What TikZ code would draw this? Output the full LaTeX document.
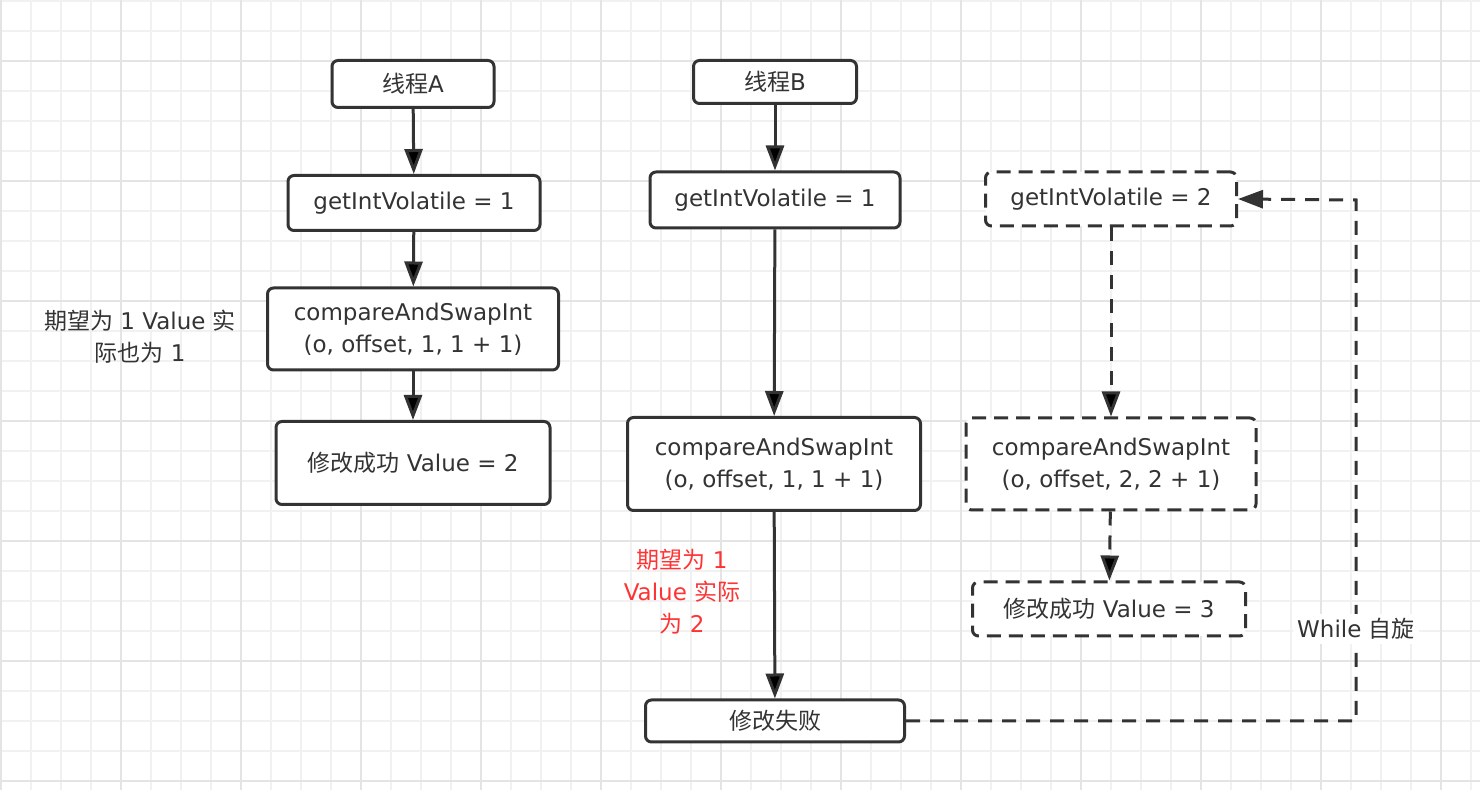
\documentclass[tikz,border=0pt]{standalone}
\usepackage{fontspec}
\setmainfont{DejaVu Sans}
\newfontfamily\cjk{Noto Sans CJK SC}
\usetikzlibrary{arrows.meta}
\definecolor{ink}{HTML}{333333}
\definecolor{gridfine}{HTML}{F1F1F1}
\definecolor{gridbold}{HTML}{E4E4E4}
\definecolor{warn}{HTML}{FF3333}

\begin{document}
\begin{tikzpicture}[x=0.5pt,y=-0.5pt,font=\fontsize{11.5}{16}\selectfont,text=ink]
    \tikzstyle{stepnode}=[draw=ink,line width=1.5pt,rounded corners=3pt,fill=white,inner sep=0pt,align=center];
    \tikzstyle{spin}=[stepnode,dash pattern=on 7pt off 4pt];
    \tikzstyle{flow}=[draw=ink,line width=1.5pt,-{Triangle[length=12.5pt,width=9pt]}];
    \tikzstyle{note}=[align=center,inner sep=1pt];
    \useasboundingbox (0,0) rectangle (1480,790);

    % grid paper
    \foreach \gx in {1,31,...,1471} \draw[gridfine,line width=0.6pt] (\gx,0) -- (\gx,790);
    \foreach \gy in {1,31,...,781} \draw[gridfine,line width=0.6pt] (0,\gy) -- (1480,\gy);
    \foreach \gx in {1,121,...,1441} \draw[gridbold,line width=0.6pt] (\gx,0) -- (\gx,790);
    \foreach \gy in {61,181,...,781} \draw[gridbold,line width=0.6pt] (0,\gy) -- (1480,\gy);

    % thread A
    \node (A0) [stepnode,minimum width=81pt,minimum height=23.5pt] at (413,84) {{\cjk 线程}A};
    \node (A1) [stepnode,minimum width=126pt,minimum height=27.5pt] at (414,203) {getIntVolatile = 1};
    \node (A2) [stepnode,minimum width=145.5pt,minimum height=41pt] at (413,329) {compareAndSwapInt\\(o, offset, 1, 1 + 1)};
    \node (A3) [stepnode,minimum width=137pt,minimum height=41.5pt] at (413,463) {{\cjk 修改成功} Value = 2};
    \node (An) [note] at (140,337) {{\cjk 期望为} 1 Value {\cjk 实}\\{\cjk 际也为} 1};

    % thread B
    \node (B0) [stepnode,minimum width=81.5pt,minimum height=21.5pt] at (775,82) {{\cjk 线程}B};
    \node (B1) [stepnode,minimum width=125pt,minimum height=28pt] at (775,200) {getIntVolatile = 1};
    \node (B2) [stepnode,minimum width=146.5pt,minimum height=46.5pt] at (774,464) {compareAndSwapInt\\(o, offset, 1, 1 + 1)};
    \node (B3) [stepnode,minimum width=129.5pt,minimum height=21pt] at (775,721) {{\cjk 修改失败}};
    \node (Bn) [note,text=warn] at (682,592) {{\cjk 期望为} 1\\Value {\cjk 实际}\\{\cjk 为} 2};

    % retry of thread B
    \node (C1) [spin,minimum width=125.5pt,minimum height=27pt] at (1111,199) {getIntVolatile = 2};
    \node (C2) [spin,minimum width=145pt,minimum height=46pt] at (1111,464) {compareAndSwapInt\\(o, offset, 2, 2 + 1)};
    \node (C3) [spin,minimum width=136.5pt,minimum height=27pt] at (1109,609) {{\cjk 修改成功} Value = 3};

    \path[flow] (A0) edge (A1) (A1) edge (A2) (A2) edge (A3)
    (B0) edge (B1) (B1) edge (B2) (B2) edge (B3);
    \path[flow,dash pattern=on 7pt off 5pt] (C1) edge (C2) (C2) edge (C3);

    \coordinate (turn) at (1356,200);
    \draw[flow,dash pattern=on 7pt off 5pt] (B3.east) -| (turn) -- (C1.east);
    \node (loop) [fill=white,inner sep=2pt] at (1356,629) {While {\cjk 自旋}};
\end{tikzpicture}
\end{document}
